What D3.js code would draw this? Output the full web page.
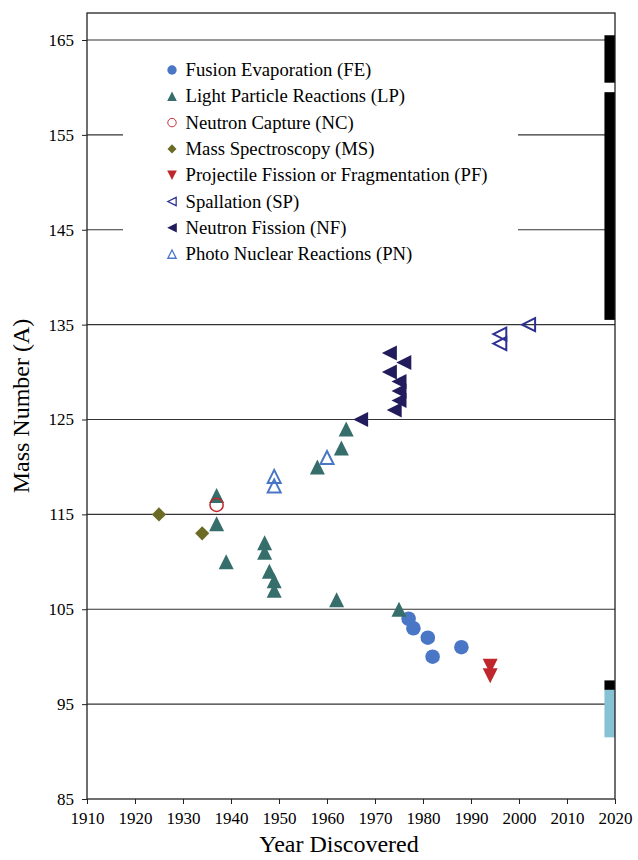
<!DOCTYPE html>
<html>
<head>
<meta charset="utf-8">
<script src="https://cdn.jsdelivr.net/npm/d3@7"></script>
<style>
  body { margin: 0; background: #fff; }
</style>
</head>
<body>
<div id="chart"></div>
<script>
// series: [year, mass number]
const feData = [[1977, 104], [1978, 103], [1981, 102], [1982, 100], [1988, 101]];
const lpData = [[1937, 117], [1937, 114], [1939, 110], [1947, 112], [1947, 111], [1948, 109],
  [1949, 108], [1949, 107], [1958, 120], [1962, 106], [1963, 122], [1964, 124], [1975, 105]];
const ncData = [[1937, 116]];
const msData = [[1925, 115], [1934, 113]];
const pfData = [[1994, 99], [1994, 98]];
const spData = [[1996, 134], [1996, 133], [2002, 135]];
const nfData = [[1967, 125], [1973, 132], [1976, 131], [1973, 130], [1975, 129], [1975, 128], [1975, 127], [1974, 126]];
const pnData = [[1949, 119], [1949, 118], [1960, 121]];

const legendNames = ["Fusion Evaporation (FE)", "Light Particle Reactions (LP)", "Neutron Capture (NC)",
  "Mass Spectroscopy (MS)", "Projectile Fission or Fragmentation (PF)", "Spallation (SP)",
  "Neutron Fission (NF)", "Photo Nuclear Reactions (PN)"];

// mass ranges marked along the right edge
const bandLo = [160.5, 135.5, 96.5, 91.5];
const bandHi = [165.5, 159.5, 97.5, 96.5];

const xTicks = d3.range(1910, 2021, 10);
const yTicks = d3.range(85, 166, 10);

const FONT = "Liberation Serif";

const width = 638, height = 860;
const margin = { top: 13, left: 87, bottom: 61, right: 23 };
const iwidth = width - margin.left - margin.right;
const iheight = height - margin.top - margin.bottom;

const svg = d3.select("#chart").append("svg")
  .attr("width", width).attr("height", height)
  .attr("font-family", FONT);

const g = svg.append("g").attr("transform", `translate(${margin.left},${margin.top})`);

const x = d3.scaleLinear().domain([1910, 2020]).range([0, iwidth]);
const y = d3.scaleLinear().domain([85, 165]).range([iheight, iheight - 759]);

// gridlines
g.append("g").selectAll("line").data(yTicks.slice(1)).enter().append("line")
  .attr("x1", 0).attr("x2", iwidth)
  .attr("y1", d => y(d)).attr("y2", d => y(d))
  .attr("stroke", "#333").attr("stroke-width", 1.2);

// right edge bands
const bands = d3.range(bandLo.length).map(i => ({ lo: bandLo[i], hi: bandHi[i] }));
g.append("g").selectAll("rect").data(bands).enter().append("rect")
  .attr("x", x(2017.8)).attr("width", x(2020) - x(2017.8))
  .attr("y", d => y(d.hi)).attr("height", d => y(d.lo) - y(d.hi))
  .attr("fill", (d, i) => i === 3 ? "#86c1d4" : "#000");

// frame
g.append("rect").attr("x", 0).attr("y", 0).attr("width", iwidth).attr("height", iheight)
  .attr("fill", "none").attr("stroke", "#222").attr("stroke-width", 1.3);

// axes
const xAxis = g.append("g").attr("transform", `translate(0,${iheight})`)
  .call(d3.axisBottom(x).tickValues(xTicks).tickFormat(d3.format("d")).tickSize(5).tickSizeOuter(0));
const yAxis = g.append("g")
  .call(d3.axisLeft(y).tickValues(yTicks).tickSize(5).tickSizeOuter(0));
[xAxis, yAxis].forEach(a => {
  a.attr("font-family", FONT).attr("font-size", 17);
  a.select(".domain").remove();
  a.selectAll("line").attr("stroke", "#222");
  a.selectAll("text").attr("fill", "#000");
});
xAxis.selectAll("text").attr("dy", "1.0em");
yAxis.selectAll("text").attr("x", -13);

// legend background covers gridlines
const legX = 172, legY = 70, legStep = 26.3;
g.append("rect").attr("x", 123 - margin.left).attr("y", 52 - margin.top)
  .attr("width", 395).attr("height", 218).attr("fill", "#fff");

// Excel-like triangle marker (width == height), rotation in degrees
const triPath = (s, rot) => {
  const h = s / 2;
  const p = d3.path();
  p.moveTo(0, -h); p.lineTo(h, h); p.lineTo(-h, h); p.closePath();
  return { d: p.toString(), t: `rotate(${rot})` };
};
const addTri = (s, size, rot) => {
  const t = triPath(size, rot);
  return s.append("path").attr("d", t.d).attr("transform", t.t);
};
const sq = d3.symbol().type(d3.symbolSquare);
const styles = [
  { data: feData, draw: s => s.append("circle").attr("r", 7.3).attr("fill", "#4a76c6") },
  { data: lpData, draw: s => addTri(s, 15, 0).attr("fill", "#356e6a") },
  { data: ncData, draw: s => s.append("circle").attr("r", 6.6).attr("fill", "none").attr("stroke", "#c0282d").attr("stroke-width", 1.5) },
  { data: msData, draw: s => s.append("path").attr("d", sq.size(100)()).attr("transform", "rotate(45)").attr("fill", "#6b6b25") },
  { data: pfData, draw: s => addTri(s, 15, 180).attr("fill", "#c0272d") },
  { data: spData, draw: s => addTri(s, 13, -90).attr("fill", "none").attr("stroke", "#2e3192").attr("stroke-width", 2) },
  { data: nfData, draw: s => addTri(s, 15, -90).attr("fill", "#231c5c") },
  { data: pnData, draw: s => addTri(s, 13, 0).attr("fill", "none").attr("stroke", "#4a76c6").attr("stroke-width", 2) }
];

// points
styles.forEach(st => {
  const pts = g.append("g").selectAll("g").data(st.data).enter().append("g")
    .attr("transform", d => `translate(${x(d[0])},${y(d[1])})`);
  st.draw(pts);
});

// legend
styles.forEach((st, i) => {
  const row = g.append("g").attr("transform", `translate(${legX - margin.left},${legY - margin.top + i * legStep})`);
  const m = row.append("g").attr("transform", "scale(0.64)");
  st.draw(m);
  row.append("text").attr("x", 13.5).attr("y", 6).attr("font-size", 18.7).text(legendNames[i]);
});

// axis titles
svg.append("text").attr("x", 339).attr("y", 852)
  .attr("text-anchor", "middle").attr("font-size", 24).text("Year Discovered");
svg.append("text").attr("transform", `translate(29,${margin.top + iheight / 2}) rotate(-90)`)
  .attr("text-anchor", "middle").attr("font-size", 24).text("Mass Number (A)");
</script>
</body>
</html>
